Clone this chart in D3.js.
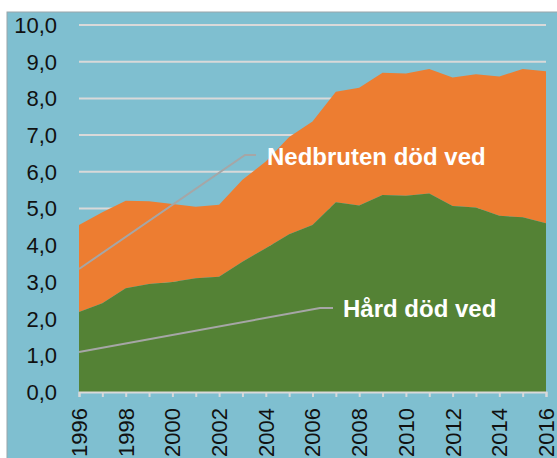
<!DOCTYPE html>
<html><head><meta charset="utf-8">
<script src="https://cdn.jsdelivr.net/npm/d3@7"></script>
<style>html,body{margin:0;padding:0;background:#fff;}svg{display:block;}</style>
</head><body>
<script>
const years = d3.range(1996, 2017);
const hard = [2.18,2.42,2.83,2.94,3.0,3.1,3.14,3.55,3.92,4.3,4.55,5.17,5.08,5.37,5.35,5.41,5.07,5.03,4.8,4.76,4.6];
const total = [4.55,4.9,5.21,5.2,5.12,5.05,5.1,5.78,6.28,6.95,7.37,8.18,8.29,8.7,8.68,8.8,8.57,8.66,8.6,8.8,8.74];
const yTicks = [0,1,2,3,4,5,6,7,8,9,10];
const xLabels = d3.range(1996, 2017, 2);
const labelHard = "Hård död ved";
const labelNed = "Nedbruten död ved";

const W = 557, H = 458;
const svg = d3.select("body").append("svg").attr("width", W).attr("height", H);
svg.append("rect").attr("x",7).attr("y",12).attr("width",W).attr("height",H)
  .attr("fill","#7fbfd0").attr("stroke","#9aa6aa").attr("stroke-width",1);

const x = d3.scaleLinear().domain([1996,2016]).range([79,546]);
const y = d3.scaleLinear().domain([0,10]).range([392,25]);

// gridlines
svg.append("g").selectAll("line").data(yTicks.filter(d=>d>0)).join("line")
  .attr("x1",79).attr("x2",546).attr("y1",d=>y(d)).attr("y2",d=>y(d))
  .attr("stroke","#d9d9d9").attr("stroke-width",2);

const data = years.map((yr,i)=>({yr, h:hard[i], t:total[i]}));
svg.append("path").datum(data).attr("fill","#ed7d31")
  .attr("d", d3.area().x(d=>x(d.yr)).y0(d=>y(d.h)).y1(d=>y(d.t)));
svg.append("path").datum(data).attr("fill","#548235")
  .attr("d", d3.area().x(d=>x(d.yr)).y0(y(0)).y1(d=>y(d.h)));

// y labels
svg.append("g").selectAll("text").data(yTicks).join("text")
  .attr("x",57).attr("y",d=>y(d)).attr("dy","0.36em").attr("text-anchor","end")
  .attr("font-family","Liberation Sans, Arial, sans-serif").attr("font-size",22).attr("fill","#111")
  .text(d=>d3.format(".1f")(d).replace(".",","));

// x axis
const xAxis = d3.axisBottom(x).tickValues(years).tickSize(5).tickFormat("");
const gx = svg.append("g").attr("transform",`translate(0,${y(0)})`).call(xAxis);
gx.select(".domain").attr("stroke","#d9d9d9").attr("stroke-width",2);
gx.selectAll(".tick line").attr("stroke","#d9d9d9").attr("stroke-width",2);
svg.append("g").selectAll("text").data(xLabels).join("text")
  .attr("transform",d=>`translate(${x(d)},408) rotate(-90)`)
  .attr("text-anchor","end").attr("dy","0.36em")
  .attr("font-family","Liberation Sans, Arial, sans-serif").attr("font-size",22).attr("fill","#111")
  .text(d=>d);

// annotation lines
svg.append("polyline").attr("points",[[x(1996),269],[245,155],[256,155]].join(" "))
  .attr("fill","none").attr("stroke","#a6a6a6").attr("stroke-width",2);
svg.append("polyline").attr("points",[[x(1996),352],[320,308],[333,308]].join(" "))
  .attr("fill","none").attr("stroke","#a6a6a6").attr("stroke-width",2);

svg.append("text").attr("x",267).attr("y",165)
  .attr("font-family","Liberation Sans, Arial, sans-serif").attr("font-weight","bold")
  .attr("font-size",24).attr("fill","#fff").text(labelNed);
svg.append("text").attr("x",343).attr("y",317)
  .attr("font-family","Liberation Sans, Arial, sans-serif").attr("font-weight","bold")
  .attr("font-size",24).attr("fill","#fff").text(labelHard);
</script>
</body></html>
